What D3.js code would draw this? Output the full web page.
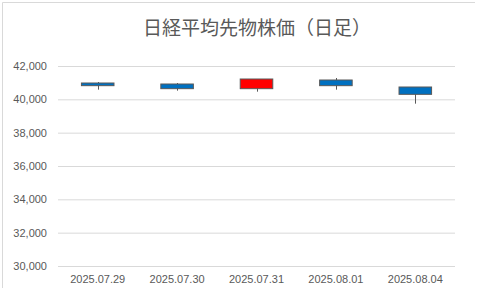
<!DOCTYPE html>
<html>
<head>
<meta charset="utf-8">
<script src="https://cdn.jsdelivr.net/npm/d3@7"></script>
<style>
  body { margin: 0; background: #fff; }
  svg { display: block; }
</style>
</head>
<body>
<div id="chart"></div>
<script>
// data
var dates = ["2025.07.29", "2025.07.30", "2025.07.31", "2025.08.01", "2025.08.04"];
var opens  = [40980, 40920, 40640, 41160, 40740];
var highs  = [41040, 40980, 41220, 41280, 40740];
var lows   = [40580, 40520, 40460, 40580, 39740];
var closes = [40820, 40640, 41220, 40820, 40300];
var yTicks = [30000, 32000, 34000, 36000, 38000, 40000, 42000];

var w = 480, h = 288,
    p = {"top": 66, "right": 25, "left": 58, "bot": 22};

var svg = d3.select("#chart").append("svg")
  .attr("width", w)
  .attr("height", h);

// chart area border (left + top)
svg.append("path")
  .attr("d", "M2.5," + h + "V2.5H475")
  .attr("fill", "none")
  .attr("stroke", "#d9d9d9")
  .attr("stroke-width", 1);

var x = d3.scaleBand()
  .domain(dates)
  .range([p.left, w - p.right])
  .paddingInner(0.59)
  .paddingOuter(0.295);

var y = d3.scaleLinear()
  .domain([30000, 42000])
  .range([h - p.bot, p.top]);

// gridlines + y labels
var yAxis = d3.axisLeft(y)
  .tickValues(yTicks)
  .tickSize(-(w - p.right - p.left))
  .tickPadding(11)
  .tickFormat(d3.format(","));

svg.append("g")
  .attr("class", "yaxis")
  .attr("transform", "translate(" + p.left + ",0)")
  .call(yAxis)
  .call(function(g){ g.select(".domain").remove(); })
  .call(function(g){
    g.selectAll("line").attr("stroke", "#d9d9d9");
    g.selectAll("text")
      .attr("fill", "#595959")
      .style("font-family", "Liberation Sans, Arial, sans-serif")
      .style("font-size", "11px");
  });

// x labels
var xAxis = d3.axisBottom(x).tickSize(0).tickPadding(9);
svg.append("g")
  .attr("transform", "translate(0," + (h - p.bot) + ")")
  .call(xAxis)
  .call(function(g){ g.select(".domain").remove(); })
  .call(function(g){
    g.selectAll("text")
      .attr("fill", "#595959")
      .style("font-family", "Liberation Sans, Arial, sans-serif")
      .style("font-size", "11px");
  });

var candles = dates.map(function(d, i){
  return {date: d, open: opens[i], high: highs[i], low: lows[i], close: closes[i]};
});

// wicks
svg.selectAll(".wick")
  .data(candles)
  .enter()
    .append("line")
      .attr("class", "wick")
      .attr("x1", function(d){ return Math.round(x(d.date) + x.bandwidth() / 2) + 0.5; })
      .attr("x2", function(d){ return Math.round(x(d.date) + x.bandwidth() / 2) + 0.5; })
      .attr("y1", function(d){ return y(d.high); })
      .attr("y2", function(d){ return y(d.low); })
      .attr("stroke", "#595959")
      .attr("stroke-width", 1);

// bodies
svg.selectAll(".body")
  .data(candles)
  .enter()
    .append("rect")
      .attr("class", "body")
      .attr("x", function(d){ return x(d.date); })
      .attr("y", function(d){ return y(Math.max(d.open, d.close)); })
      .attr("width", x.bandwidth())
      .attr("height", function(d){ return Math.abs(y(d.open) - y(d.close)); })
      .attr("fill", function(d){ return d.close > d.open ? "#ff0000" : "#0070c0"; })
      .attr("stroke", "#595959")
      .attr("stroke-width", 1);

// title
svg.append("text")
  .attr("x", 257)
  .attr("y", 35)
  .attr("text-anchor", "middle")
  .attr("fill", "#595959")
  .style("font-family", "Noto Sans CJK JP, sans-serif")
  .style("font-size", "19px")
  .text("日経平均先物株価（日足）");
</script>
</body>
</html>
